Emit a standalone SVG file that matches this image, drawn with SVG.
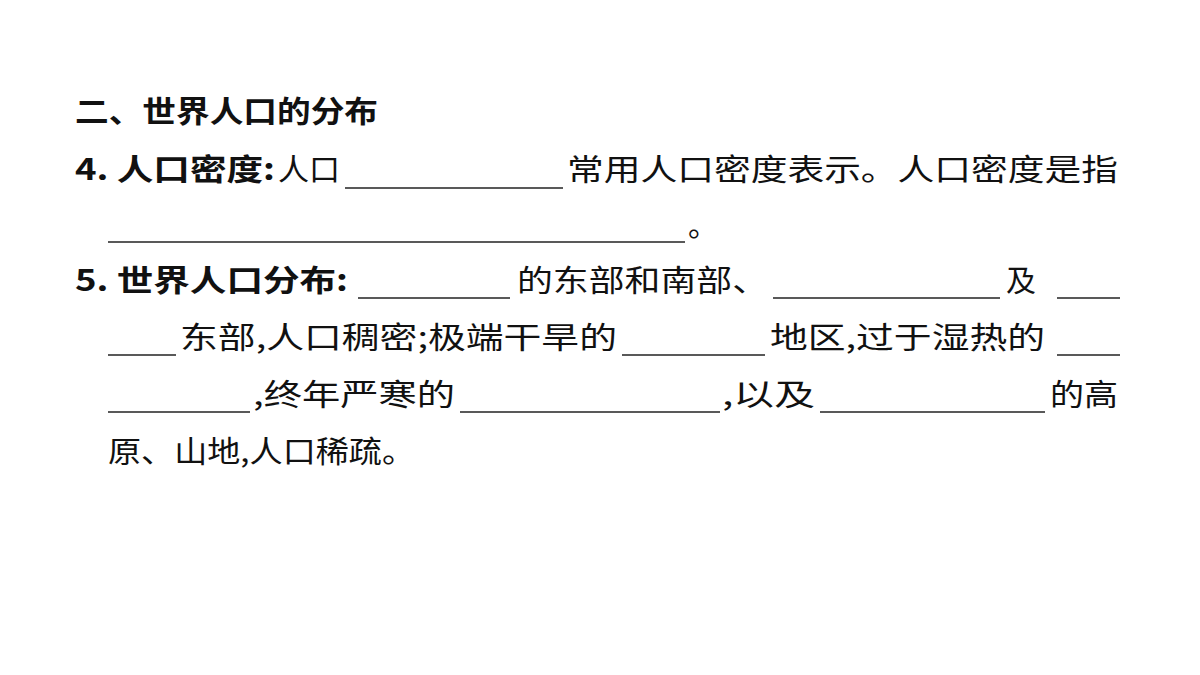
<svg xmlns="http://www.w3.org/2000/svg" width="1200" height="675" viewBox="0 0 1200 675">
<style>
text{font-family:"Noto Sans CJK SC","Noto Serif CJK SC",sans-serif;font-size:30px;fill:#111}
.b{font-weight:bold}
line{stroke:#222;stroke-width:1.3}
</style>
<rect width="1200" height="675" fill="#fff"/>
<text class="b" x="75" y="122" textLength="303" lengthAdjust="spacingAndGlyphs">二、世界人口的分布</text>
<text class="b" x="75" y="180" textLength="200" lengthAdjust="spacingAndGlyphs">4. 人口密度:</text>
<text x="278" y="180" textLength="62" lengthAdjust="spacingAndGlyphs">人口</text>
<line x1="345" y1="188" x2="563" y2="188"/>
<text x="567" y="180" textLength="551" lengthAdjust="spacingAndGlyphs">常用人口密度表示。人口密度是指</text>
<line x1="108" y1="242" x2="685" y2="242"/>
<text x="688" y="236">。</text>
<text class="b" x="75" y="291" textLength="273" lengthAdjust="spacingAndGlyphs">5. 世界人口分布:</text>
<line x1="358" y1="298" x2="510" y2="298"/>
<text x="517" y="291" textLength="251" lengthAdjust="spacingAndGlyphs">的东部和南部、</text>
<line x1="773" y1="298" x2="1000" y2="298"/>
<text x="1006" y="291">及</text>
<line x1="1057" y1="298" x2="1120" y2="298"/>
<line x1="108" y1="355" x2="176" y2="355"/>
<text x="180" y="348" textLength="437" lengthAdjust="spacingAndGlyphs">东部,人口稠密;极端干旱的</text>
<line x1="622" y1="355" x2="765" y2="355"/>
<text x="770" y="348" textLength="275" lengthAdjust="spacingAndGlyphs">地区,过于湿热的</text>
<line x1="1057" y1="355" x2="1120" y2="355"/>
<line x1="108" y1="412" x2="250" y2="412"/>
<text x="253" y="405" textLength="202" lengthAdjust="spacingAndGlyphs">,终年严寒的</text>
<line x1="460" y1="412" x2="720" y2="412"/>
<text x="722" y="405" textLength="93" lengthAdjust="spacingAndGlyphs">,以及</text>
<line x1="820" y1="412" x2="1045" y2="412"/>
<text x="1050" y="405" textLength="68" lengthAdjust="spacingAndGlyphs">的高</text>
<text x="108" y="462" textLength="307" lengthAdjust="spacingAndGlyphs">原、山地,人口稀疏。</text>
</svg>
